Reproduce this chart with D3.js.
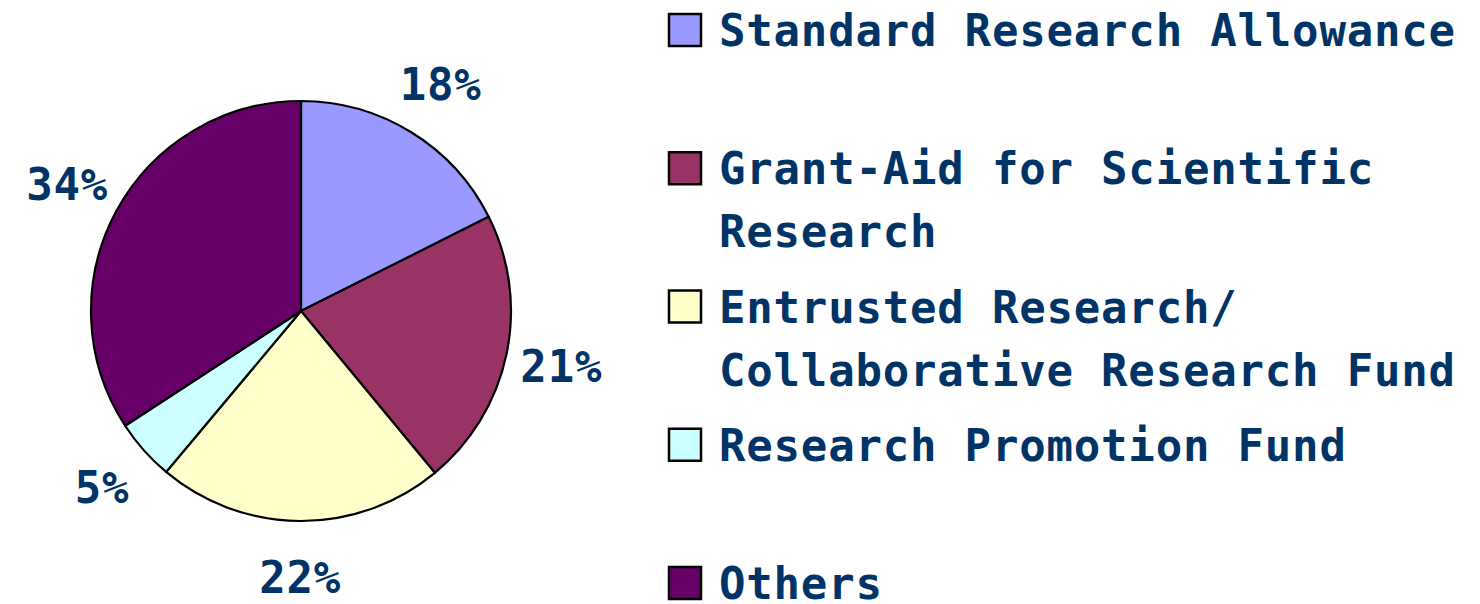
<!DOCTYPE html>
<html>
<head>
<meta charset="utf-8">
<title>Research funds</title>
<style>
  html, body { margin: 0; padding: 0; background: #fff; }
  svg text {
    font-family: "DejaVu Sans Mono", "Liberation Mono", monospace;
    font-weight: bold;
    fill: #003366;
  }
</style>
<script src="https://cdn.jsdelivr.net/npm/d3@7"></script>
</head>
<body>
<svg id="chart" width="1480" height="604"></svg>
<script>
// funding categories, legend text split in lines as in the original
var categories = ["Standard Research Allowance", "Grant-Aid for Scientific Research",
  "Entrusted Research/Collaborative Research Fund", "Research Promotion Fund", "Others"]
var legendLines = [
  ["Standard Research Allowance"],
  ["Grant-Aid for Scientific", "Research"],
  ["Entrusted Research/", "Collaborative Research Fund"],
  ["Research Promotion Fund"],
  ["Others"]
]
// shares in percent
var shares = [17.6, 21.4, 22.1, 4.7, 34.2]
var colors = ["#9999FF", "#993366", "#FFFFCC", "#CCFFFF", "#660066"]

var svg = d3.select("#chart")

var cx = 301, cy = 311, radius = 210   // pie centre and size
var labelRadius = 266                   // where the % labels sit

var pie = d3.pie().sort(null).value(d => d)
var arcs = pie(shares)

var arc = d3.arc().innerRadius(0).outerRadius(radius)
var labelArc = d3.arc().innerRadius(labelRadius).outerRadius(labelRadius)

var g = svg.append("g").attr("transform", "translate(" + cx + "," + cy + ")")

g.selectAll("path")
  .data(arcs)
  .enter().append("path")
  .attr("d", arc)
  .attr("fill", (d, i) => colors[i])
  .attr("stroke", "#000")
  .attr("stroke-width", 2.2)
  .attr("stroke-linejoin", "round")

// percentage labels outside the pie
g.selectAll("text.pct")
  .data(arcs)
  .enter().append("text")
  .attr("class", "pct")
  .attr("transform", d => "translate(" + labelArc.centroid(d) + ")")
  .attr("text-anchor", "middle")
  .attr("dy", "0.36em")
  .style("font-size", "44px")
  .style("letter-spacing", "0.8px")
  .text(d => Math.round(d.value) + "%")

// legend on the right
var legendY = d3.scalePoint().domain(categories).range([14, 567])
var box = 32

var items = svg.selectAll("g.legend")
  .data(categories)
  .enter().append("g")
  .attr("class", "legend")
  .attr("transform", d => "translate(669," + legendY(d) + ")")

items.append("rect")
  .attr("width", box)
  .attr("height", box)
  .attr("fill", (d, i) => colors[i])
  .attr("stroke", "#000")
  .attr("stroke-width", 2.5)

items.each(function (d, i) {
  d3.select(this).selectAll("text")
    .data(legendLines[i])
    .enter().append("text")
    .attr("x", 50)
    .attr("y", (t, j) => 32 + j * 63)
    .style("font-size", "44px")
    .style("letter-spacing", "0.8px")
    .text(t => t)
})
</script>
</body>
</html>
